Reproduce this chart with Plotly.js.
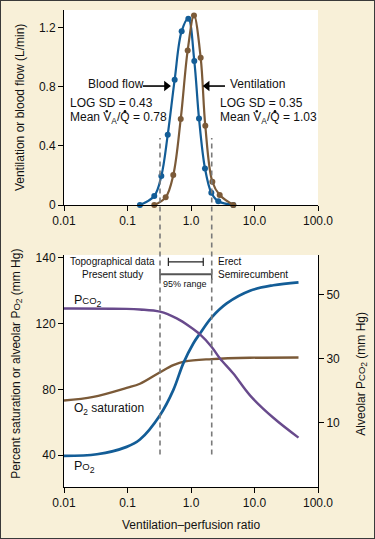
<!DOCTYPE html>
<html>
<head>
<meta charset="utf-8">
<script src="https://cdn.plot.ly/plotly-3.0.1.min.js"></script>
<style>
html,body{margin:0;padding:0;background:#f8f0d8;}
#chart{width:373px;height:537px;border:1px solid #3a3a3a;}
</style>
</head>
<body>
<div id="chart"></div>
<script>
// ---- data ----
const tickVals = [0.01, 0.1, 1, 10, 100];
const tickLabels = ['0.01', '0.1', '1.0', '10.0', '100.0'];

// top panel: distributions (L/min)
const bloodX = [0.157, 0.264, 0.341, 0.430, 0.553, 0.713, 0.908, 1.127, 1.337, 1.66, 2.09, 2.69, 4.64];
const bloodY = [0, 0.061, 0.196, 0.474, 0.847, 1.175, 1.259, 0.973, 0.585, 0.247, 0.083, 0.025, 0];
const ventX = [0.264, 0.399, 0.526, 0.689, 0.887, 1.114, 1.42, 1.68, 2.17, 2.83, 4.64];
const ventY = [0, 0.052, 0.202, 0.582, 1.045, 1.281, 0.996, 0.535, 0.157, 0.067, 0];
const topYTicks = [0, 0.4, 0.8, 1.2];
const topYLabels = ['0', '0.4', '0.8', '1.2'];

// bottom panel (left axis units)
const po2X = [0.01, 0.033, 0.097, 0.157, 0.325, 0.526, 0.756, 1.087, 1.386, 2.12, 3.65, 8.49, 19.8, 49.3];
const po2Y = [39.6, 40.6, 45.1, 49.6, 64.4, 79.6, 95.9, 108.0, 114.1, 123.9, 132.4, 140.1, 143.4, 145.2];
const o2X = [0.01, 0.029, 0.097, 0.157, 0.325, 0.526, 0.805, 2.12, 8.49, 49.3];
const o2Y = [73.3, 75.5, 81, 83.5, 90.5, 94.8, 97.1, 98.5, 99.3, 99.5];
// right axis (mm Hg)
const pco2X = [0.01, 0.097, 0.157, 0.325, 0.596, 0.964, 1.386, 2.12, 2.86, 4.64, 8.49, 19.8, 49.3];
const pco2Y = [45.6, 45.5, 45.3, 44.6, 42.5, 39.9, 37.5, 33.6, 30.0, 25.3, 18.5, 11.5, 5.3];
const leftTickVals = [40, 80, 120, 160];
const leftTickLabels = ['40', '80', '120', '140'];
const rightTickVals = [10, 30, 50];

// 95% ranges
const topoRange = [0.44, 1.56];
const studyRange = [0.325, 2.12];

// label arrows (tail, head) in V/Q units, at 0.804 L/min
const bloodArrow = [0.175, 0.41];
const ventArrow = [3.43, 1.80];

// ---- style ----
const BLUE = '#135d97', BROWN = '#7b5a38', PURPLE = '#684a8c', GRAY = '#7a7a7a';
const FONT = 'Liberation Sans, Arial, Helvetica, sans-serif';

function arrowTraces(xs, sym) {
  return [
    {x: xs, y: [0.804, 0.804], xaxis: 'x', yaxis: 'y', mode: 'lines', line: {color: '#000', width: 1.6}, cliponaxis: false},
    {x: [xs[1]], y: [0.804], xaxis: 'x', yaxis: 'y', mode: 'markers', marker: {symbol: sym, size: 9, color: '#000'}, cliponaxis: false}
  ];
}

// rate dots above V and Q in the "Mean VA/Q" labels (log10 positions of the letters)
const rateDotLog = [-1.326, -1.04, 1.036, 1.322];

const traces = [
  {x: bloodX, y: bloodY, xaxis: 'x', yaxis: 'y', mode: 'lines+markers', line: {shape: 'spline', color: BLUE, width: 2.2},
   marker: {color: BLUE, size: 6}, cliponaxis: false},
  {x: ventX, y: ventY, xaxis: 'x', yaxis: 'y', mode: 'lines+markers', line: {shape: 'spline', color: BROWN, width: 2.2},
   marker: {color: BROWN, size: 6}, cliponaxis: false},
  ...arrowTraces(bloodArrow, 'triangle-right'),
  ...arrowTraces(ventArrow, 'triangle-left'),
  {x: rateDotLog.map(v => Math.pow(10, v)), y: rateDotLog.map(() => 0.634), xaxis: 'x', yaxis: 'y', mode: 'markers',
   marker: {symbol: 'circle', size: 2.6, color: '#111'}, cliponaxis: false},
  {x: o2X, y: o2Y, xaxis: 'x2', yaxis: 'y2', mode: 'lines', line: {shape: 'spline', color: BROWN, width: 2.4}},
  {x: po2X, y: po2Y, xaxis: 'x2', yaxis: 'y2', mode: 'lines', line: {shape: 'spline', color: BLUE, width: 2.7}},
  {x: pco2X, y: pco2Y, xaxis: 'x2', yaxis: 'y3', mode: 'lines', line: {shape: 'spline', color: PURPLE, width: 2.4}},
  {x: topoRange, y: [157.6, 157.6], xaxis: 'x2', yaxis: 'y2', mode: 'lines+markers', line: {color: '#222', width: 1.2},
   marker: {symbol: 'line-ns-open', size: 6, color: '#222', line: {width: 1.2, color: '#222'}}, cliponaxis: false},
  {x: studyRange, y: [150.1, 150.1], xaxis: 'x2', yaxis: 'y2', mode: 'lines+markers', line: {color: '#555', width: 2},
   marker: {symbol: 'line-ns-open', size: 8, color: '#555', line: {width: 1.5, color: '#555'}}, cliponaxis: false}
];

function axisX(anchor) {
  return {type: 'log', range: [-2, 2], tickvals: tickVals, ticktext: tickLabels, showgrid: false, zeroline: false,
    showline: true, linecolor: '#000', linewidth: 1, ticks: 'outside', ticklen: 5, tickcolor: '#000',
    tickfont: {size: 12, color: '#111'}, anchor: anchor, fixedrange: true};
}

const ann = [];
function t(text, x, y, xref, yref, opts) {
  ann.push(Object.assign({text: text, x: x, y: y, xref: xref, yref: yref, showarrow: false,
    xanchor: 'left', yanchor: 'middle', font: {size: 12, color: '#111', family: FONT}}, opts || {}));
}
// top panel labels
t('Blood flow', -1.66, 0.8155, 'x', 'y');
t('LOG SD = 0.43', -1.93, 0.691, 'x', 'y');
t('Mean V<sub>A</sub>/Q = 0.78', -1.93, 0.588, 'x', 'y');
t('Ventilation', 0.575, 0.8155, 'x', 'y');
t('LOG SD = 0.35', 0.432, 0.691, 'x', 'y');
t('Mean V<sub>A</sub>/Q = 1.03', 0.432, 0.588, 'x', 'y');
// bottom panel labels
t('P<span style="font-size:9.5px">CO</span><sub>2</sub>', -1.87, 134, 'x2', 'y2', {font: {size: 12.5, color: '#111', family: FONT}});
t('O<sub>2</sub> saturation', -1.87, 68, 'x2', 'y2');
t('P<span style="font-size:9.5px">O</span><sub>2</sub>', -1.87, 32.9, 'x2', 'y2', {font: {size: 12.5, color: '#111', family: FONT}});
t('Topographical data', -1.236, 157.6, 'x2', 'y2', {xanchor: 'center', font: {size: 10, color: '#111', family: FONT}});
t('Present study', -1.236, 149.9, 'x2', 'y2', {xanchor: 'center', font: {size: 10, color: '#111', family: FONT}});
t('Erect', 0.40, 157.6, 'x2', 'y2', {font: {size: 10, color: '#111', family: FONT}});
t('Semirecumbent', 0.40, 149.9, 'x2', 'y2', {font: {size: 10, color: '#111', family: FONT}});
t('95% range', -0.0945, 144.2, 'x2', 'y2', {xanchor: 'center', font: {size: 9, color: '#111', family: FONT}});
// axis titles
t('Ventilation or blood flow (L/min)', -0.173, 0.7945, 'paper', 'paper', {xanchor: 'center', textangle: -90});
t('Percent saturation or alveolar P<span style="font-size:9.5px">O</span><sub>2</sub> (mm Hg)', -0.186, 0.258, 'paper', 'paper', {xanchor: 'center', textangle: -90});
t('Alveolar P<span style="font-size:9.5px">CO</span><sub>2</sub> (mm Hg)', 1.172, 0.237, 'paper', 'paper', {xanchor: 'center', textangle: -90});
t('Ventilation\u2013perfusion ratio', 0.5, -0.0797, 'paper', 'paper', {xanchor: 'center'});

const shapes = studyRange.map(v => ({type: 'line', xref: 'x2', yref: 'paper', x0: v, x1: v, y0: 0.0681, y1: 0.7317,
  line: {color: GRAY, width: 1.6, dash: '5px,4px'}}));

const layout = {
  width: 373, height: 537,
  margin: {l: 63, r: 56, t: 9, b: 51},
  paper_bgcolor: '#f8f0d8', plot_bgcolor: '#ffffff',
  font: {family: FONT, size: 12, color: '#111'},
  showlegend: false, hovermode: false,
  xaxis: Object.assign(axisX('y'), {domain: [0, 1]}),
  yaxis: {domain: [0.5912, 1], range: [0, 1.318], tickvals: topYTicks, ticktext: topYLabels, showgrid: false,
    zeroline: false, showline: true, linecolor: '#000', ticks: 'outside', ticklen: 5, tickcolor: '#000',
    tickfont: {size: 12, color: '#111'}, anchor: 'x', fixedrange: true},
  xaxis2: Object.assign(axisX('y2'), {domain: [0, 1]}),
  yaxis2: {domain: [0, 0.4864], range: [20.7, 161.8], tickvals: leftTickVals, ticktext: leftTickLabels,
    showgrid: false, zeroline: false, showline: true, linecolor: '#000', ticks: 'outside', ticklen: 5,
    tickcolor: '#000', tickfont: {size: 12, color: '#111'}, anchor: 'x2', fixedrange: true},
  yaxis3: {overlaying: 'y2', side: 'right', anchor: 'x2', range: [-10.1, 62.3], tickvals: rightTickVals,
    showgrid: false, zeroline: false, showline: true, linecolor: '#000', ticks: 'outside', ticklen: 5,
    tickcolor: '#000', tickfont: {size: 12, color: '#111'}, fixedrange: true},
  annotations: ann,
  shapes: shapes
};

Plotly.newPlot('chart', traces, layout, {displayModeBar: false, staticPlot: true});
</script>
</body>
</html>
